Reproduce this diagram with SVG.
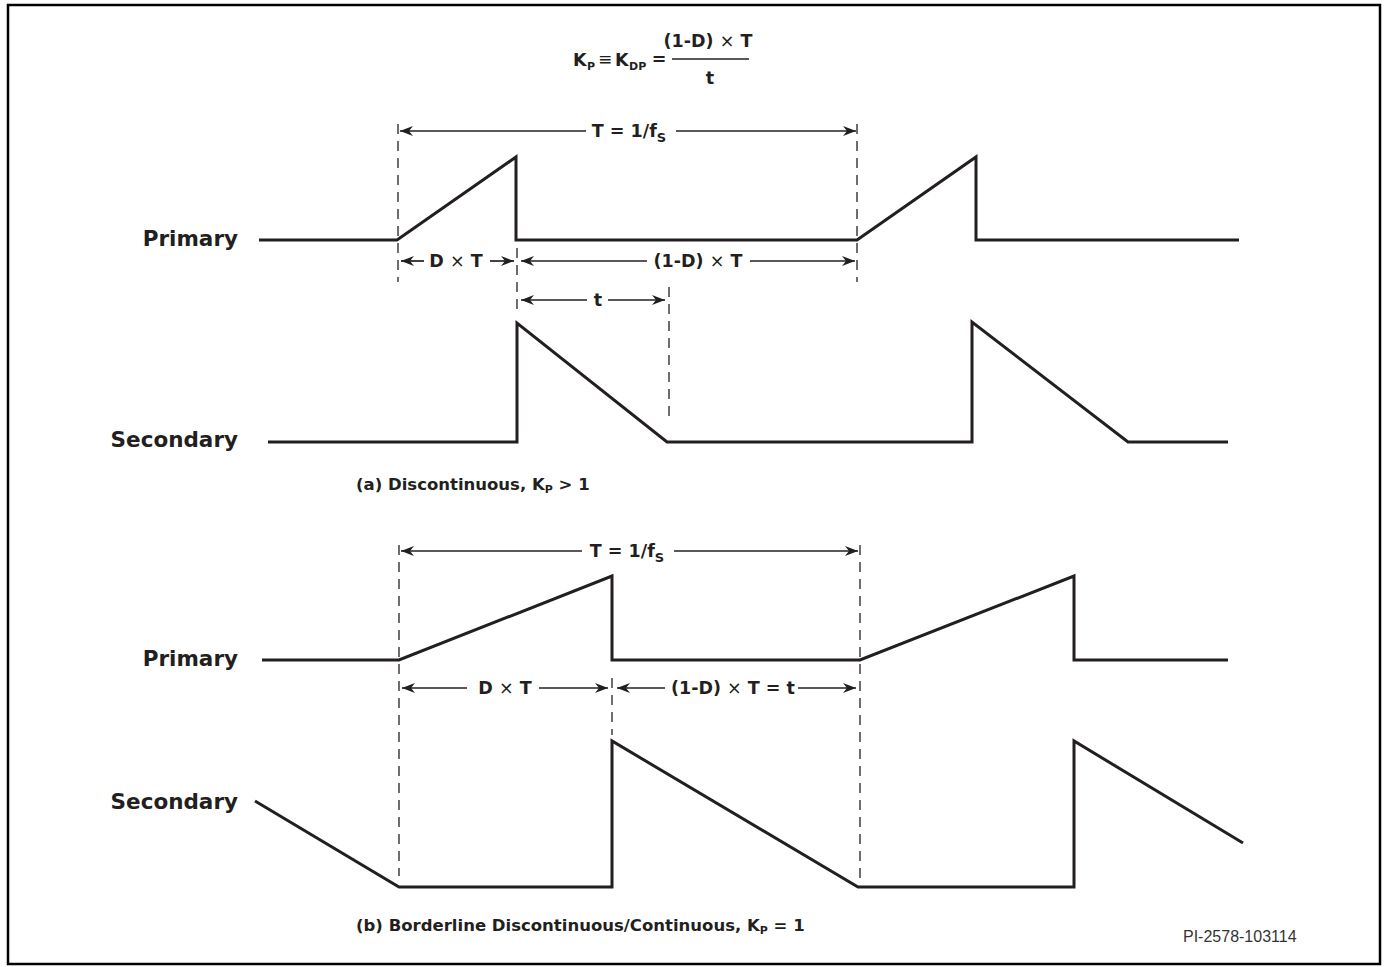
<svg xmlns="http://www.w3.org/2000/svg" width="1385" height="967" viewBox="0 0 1385 967">
<style>
  .wave { fill: none; stroke: #231f20; stroke-width: 3; stroke-linejoin: miter; }
  .dash { fill: none; stroke: #231f20; stroke-width: 1.3; stroke-dasharray: 10 7; }
  .dim { fill: none; stroke: #231f20; stroke-width: 1.7; }
  .lbl { font-family: "DejaVu Sans", Verdana, sans-serif; font-weight: bold; fill: #231f20; }
  .big { font-size: 21.5px; }
  .cap { font-size: 16.5px; }
  .dl { font-size: 17.5px; text-anchor: middle; }
  .n { font-weight: normal; }
</style>
<defs>
  <marker id="ah" markerUnits="userSpaceOnUse" markerWidth="16" markerHeight="14" viewBox="-14 -7 16 14" refX="0" refY="0" orient="auto-start-reverse">
    <path d="M0,0 L-13,-5 L-9,0 L-13,5 Z" fill="#231f20"/>
  </marker>
</defs>
<rect x="8" y="5" width="1372" height="959" fill="#fff" stroke="#000" stroke-width="2.5"/>

<g id="formula" class="lbl">
  <text x="573" y="66" font-size="17.5">K</text>
  <text x="587" y="70" font-size="11">P</text>
  <text x="605" y="65" font-size="17" class="n" text-anchor="middle">≡</text>
  <text x="615" y="66" font-size="17.5">K</text>
  <text x="629" y="70" font-size="11">DP</text>
  <text x="659" y="65" font-size="17.5" text-anchor="middle">=</text>
  <line x1="672" y1="59" x2="749" y2="59" stroke="#231f20" stroke-width="1.6"/>
  <text x="708" y="47" font-size="17.5" text-anchor="middle">(1-D) <tspan class="n">×</tspan> T</text>
  <text x="710" y="84" font-size="17.5" text-anchor="middle">t</text>
</g>

<g id="connectors">
  <!-- (a) dashed guides -->
  <line class="dash" x1="398" y1="124" x2="398" y2="282"/>
  <line class="dash" x1="857" y1="124" x2="857" y2="282"/>
  <line class="dash" x1="517" y1="248" x2="517" y2="310"/>
  <line class="dash" x1="669" y1="287" x2="669" y2="416"/>
  <!-- (a) dimension arrows -->
  <line class="dim" x1="400" y1="131" x2="586" y2="131" marker-start="url(#ah)"/>
  <line class="dim" x1="676" y1="131" x2="856" y2="131" marker-end="url(#ah)"/>
  <line class="dim" x1="401" y1="261" x2="424" y2="261" marker-start="url(#ah)"/>
  <line class="dim" x1="490" y1="261" x2="514" y2="261" marker-end="url(#ah)"/>
  <line class="dim" x1="521" y1="261" x2="647" y2="261" marker-start="url(#ah)"/>
  <line class="dim" x1="750" y1="261" x2="855" y2="261" marker-end="url(#ah)"/>
  <line class="dim" x1="521" y1="300" x2="587" y2="300" marker-start="url(#ah)"/>
  <line class="dim" x1="608" y1="300" x2="665" y2="300" marker-end="url(#ah)"/>
  <!-- (b) dashed guides -->
  <line class="dash" x1="399" y1="545" x2="399" y2="876"/>
  <line class="dash" x1="860" y1="545" x2="860" y2="878"/>
  <line class="dash" x1="612" y1="678" x2="612" y2="735"/>
  <!-- (b) dimension arrows -->
  <line class="dim" x1="401" y1="551" x2="582" y2="551" marker-start="url(#ah)"/>
  <line class="dim" x1="674" y1="551" x2="858" y2="551" marker-end="url(#ah)"/>
  <line class="dim" x1="402" y1="688" x2="467" y2="688" marker-start="url(#ah)"/>
  <line class="dim" x1="539" y1="688" x2="608" y2="688" marker-end="url(#ah)"/>
  <line class="dim" x1="617" y1="688" x2="665" y2="688" marker-start="url(#ah)"/>
  <line class="dim" x1="798" y1="688" x2="856" y2="688" marker-end="url(#ah)"/>
</g>

<g id="dim-labels" class="lbl">
  <text class="dl" x="629" y="137" font-size="18">T = 1/f<tspan font-size="13" dy="5">S</tspan></text>
  <text class="dl" x="456" y="267">D <tspan class="n">×</tspan> T</text>
  <text class="dl" x="698" y="267">(1-D) <tspan class="n">×</tspan> T</text>
  <text class="dl" x="598" y="306">t</text>
  <text class="dl" x="627" y="557" font-size="18">T = 1/f<tspan font-size="13" dy="5">S</tspan></text>
  <text class="dl" x="505" y="694">D <tspan class="n">×</tspan> T</text>
  <text class="dl" x="733" y="694">(1-D) <tspan class="n">×</tspan> T = t</text>
</g>

<g id="primary-a">
  <text class="lbl big" x="238" y="246" text-anchor="end">Primary</text>
  <path class="wave" d="M259,240 L397,240 L516,157 L516,240 L857,240 L976,157 L976,240 L1239,240"/>
</g>
<g id="secondary-a">
  <text class="lbl big" x="238" y="447" text-anchor="end">Secondary</text>
  <path class="wave" d="M268,442 L517,442 L517,323 L667,442 L972,442 L972,322 L1128,442 L1228,442"/>
</g>
<g id="caption-a">
  <text class="lbl cap" x="356" y="490">(a) Discontinuous, K<tspan font-size="11" dy="3">P</tspan><tspan dy="-3"> &gt; 1</tspan></text>
</g>

<g id="primary-b">
  <text class="lbl big" x="238" y="666" text-anchor="end">Primary</text>
  <path class="wave" d="M262,660 L399,660 L612,576 L612,660 L860,660 L1074,576 L1074,660 L1228,660"/>
</g>
<g id="secondary-b">
  <text class="lbl big" x="238" y="809" text-anchor="end">Secondary</text>
  <path class="wave" d="M255,801 L399,887 L612,887 L612,741 L858,887 L1074,887 L1074,741 L1243,843"/>
</g>
<g id="caption-b">
  <text class="lbl cap" x="356" y="931">(b) Borderline Discontinuous/Continuous, K<tspan font-size="11" dy="3">P</tspan><tspan dy="-3"> = 1</tspan></text>
</g>

<g id="part-number">
  <text x="1183" y="942" font-family="Liberation Sans, Arial, sans-serif" font-size="16" fill="#333">PI-2578-103114</text>
</g>
</svg>
